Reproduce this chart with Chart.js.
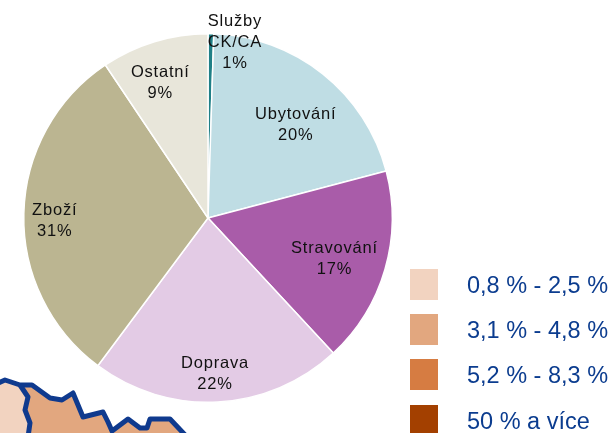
<!DOCTYPE html>
<html><head><meta charset="utf-8">
<script src="https://cdn.jsdelivr.net/npm/chart.js@4/dist/chart.umd.min.js"></script>
<style>
html,body{margin:0;padding:0;background:#fff;width:613px;height:433px;overflow:hidden}
#wrap{position:relative;width:613px;height:433px}
svg,canvas{position:absolute;left:0;top:0}
.sw{position:absolute;left:410px;width:28px;height:31px}
.lt{position:absolute;left:467px;font:23.5px "Liberation Sans",Arial,sans-serif;color:#0B3C8F;white-space:nowrap;line-height:28px}
</style></head><body>
<div id="wrap">
<svg width="613" height="433">
<path d="M-4,384 L5,380 L20,385 L32,385 L50,398 L62,400 L73,393 L83,417 L103,412 L108,422 L112,431 L128,419 L140,428 L147,428 L150,419 L170,419 L187,437 L-4,437 Z" fill="#E2A77F"/>
<path d="M-4,384 L5,380 L20,385 L28,397 L25,410 L30,423 L28,437 L-4,437 Z" fill="#F2D3C0"/>
<path d="M-4,384 L5,380 L20,385 L32,385 L50,398 L62,400 L73,393 L83,417 L103,412 L108,422 L112,431 L128,419 L140,428 L147,428 L150,419 L170,419 L187,437" fill="none" stroke="#0F3A8E" stroke-width="5" stroke-linejoin="round"/>
<path d="M20,385 L28,397 L25,410 L30,423 L28,437" fill="none" stroke="#0F3A8E" stroke-width="5" stroke-linejoin="round"/>
</svg>
<canvas id="c" width="613" height="433"></canvas>
<div id="legend"></div>
</div>
<script>
const categories = ["Služby\nCK/CA", "Ubytování", "Stravování", "Doprava", "Zboží", "Ostatní"];
const shares = [0.5, 20.4, 17.2, 22.1, 30.4, 9.4];
const shareLabels = ["1%", "20%", "17%", "22%", "31%", "9%"];
const sliceColors = ["#1F8087", "#BFDDE4", "#A95CA9", "#E3CBE5", "#BBB591", "#E8E6DA"];
const legendLabels = ["0,8 % - 2,5 %", "3,1 % - 4,8 %", "5,2 % - 8,3 %", "50 % a více"];
const legendColors = ["#F2D3C0", "#E2A77F", "#D67C42", "#A34000"];

const legendTops = [269, 314, 359, 405];
const legendEl = document.getElementById("legend");
legendLabels.forEach((t, i) => {
  const s = document.createElement("div");
  s.className = "sw"; s.style.top = legendTops[i] + "px"; s.style.background = legendColors[i];
  if (i === 3) s.style.height = "28px";
  const l = document.createElement("div");
  l.className = "lt"; l.style.top = (legendTops[i] + 2) + "px"; l.textContent = t;
  legendEl.append(s, l);
});

// label anchor offsets relative to the pie centre, as fractions of its radius
const labelOffsets = [[0.146,-0.954],[0.476,-0.503],[0.686,0.222],[0.038,0.846],[-0.832,0.016],[-0.259,-0.735]];
const sliceLabels = {
  id: "sliceLabels",
  afterDatasetsDraw(chart) {
    const { ctx } = chart;
    const arcs = chart.getDatasetMeta(0).data;
    ctx.save();
    ctx.font = '16.5px "Liberation Sans",Arial,sans-serif';
    ctx.letterSpacing = "0.8px";
    ctx.fillStyle = "#111";
    ctx.textAlign = "center";
    ctx.textBaseline = "middle";
    arcs.forEach((arc, i) => {
      const lines = [...categories[i].split("\n"), shareLabels[i]];
      const x = arc.x + labelOffsets[i][0] * arc.outerRadius;
      const y = arc.y + labelOffsets[i][1] * arc.outerRadius;
      const lh = 21;
      lines.forEach((ln, k) => ctx.fillText(ln, x, y + (k - (lines.length - 1) / 2) * lh));
    });
    ctx.restore();
  }
};

new Chart(document.getElementById("c"), {
  type: "pie",
  data: { labels: categories, datasets: [{ data: shares, backgroundColor: sliceColors, borderColor: "#fff", borderWidth: 1.5 }] },
  options: {
    responsive: false, animation: false,
    layout: { padding: { left: 23, right: 220, top: 33, bottom: 30 } },
    plugins: { legend: { display: false }, tooltip: { enabled: false } }
  },
  plugins: [sliceLabels]
});
</script>
</body></html>
